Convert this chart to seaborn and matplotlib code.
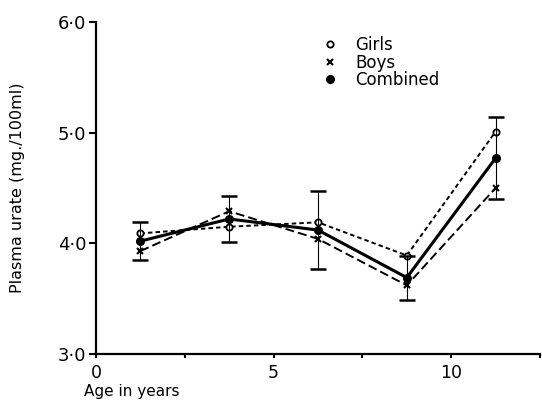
import numpy as np
import pandas as pd
import matplotlib
matplotlib.use('Agg')
import matplotlib.pyplot as plt
import seaborn as sns
from matplotlib.lines import Line2D

# data
ages = [1.25, 3.75, 6.25, 8.75, 11.25]
girls = [4.09, 4.15, 4.19, 3.89, 5.01]
boys = [3.93, 4.29, 4.04, 3.62, 4.50]
combined = [4.02, 4.22, 4.12, 3.69, 4.77]
combined_err = [0.17, 0.21, 0.35, 0.20, 0.37]

groups = ['Girls', 'Boys', 'Combined']
x_ticks = [0, 5, 10]
x_tick_labels = ['0', '5', '10']
x_minor = [2.5, 7.5, 12.5]
y_ticks = [3, 4, 5, 6]
y_tick_labels = ['3·0', '4·0', '5·0', '6·0']

sns.set_style('ticks')
plt.rcParams['font.family'] = ['DejaVu Sans']
plt.rcParams['text.color'] = 'black'
plt.rcParams['axes.labelcolor'] = 'black'
plt.rcParams['xtick.color'] = 'black'
plt.rcParams['ytick.color'] = 'black'

df = pd.DataFrame({
    'age': ages * 3,
    'urate': girls + boys + combined,
    'group': [g for g in groups for _ in ages],
})

# line style per group
styles = {
    'Girls': dict(linewidth=1.4, linestyle=(0, (2.3, 1.6)), marker='o', markersize=4.5,
                  markerfacecolor='white', markeredgecolor='black', markeredgewidth=1.3),
    'Boys': dict(linewidth=1.4, linestyle=(0, (4.6, 2.1)), marker='x', markersize=4,
                 markeredgecolor='black', markeredgewidth=1.5),
    'Combined': dict(linewidth=2.2, linestyle='-', marker='o', markersize=5.5,
                     markerfacecolor='black', markeredgecolor='black', markeredgewidth=1),
}

fig = plt.figure(figsize=(5.42, 4.0), dpi=100)
ax = fig.add_axes([96 / 542, 46 / 400, 444 / 542, 332 / 400])

for g in groups:
    sub = df[df['group'] == g]
    sns.lineplot(data=sub, x='age', y='urate', ax=ax, color='black',
                 errorbar=None, sort=False, **styles[g])

ax.errorbar(ages, combined, yerr=combined_err, fmt='none', ecolor='black',
            elinewidth=0.8, capsize=6, capthick=1.8)

ax.set_xlim(0, 12.5)
ax.set_ylim(3, 6)
ax.set_xticks(x_ticks)
ax.set_xticklabels(x_tick_labels, fontsize=12.5)
ax.set_xticks(x_minor, minor=True)
ax.set_yticks(y_ticks)
ax.set_yticklabels(y_tick_labels, fontsize=13)
ax.tick_params(axis='both', which='major', length=5, width=1.5, color='black', pad=2)
ax.tick_params(axis='x', which='major', length=3, pad=4)
ax.tick_params(axis='x', which='minor', length=3, width=1.5)

sns.despine(ax=ax)
for s in ['left', 'bottom']:
    ax.spines[s].set_linewidth(1.6)
    ax.spines[s].set_color('black')

ax.set_xlabel('Age in years', fontsize=11, ha='left', va='top')
ax.xaxis.set_label_coords((84 - 96) / 444, -(384 - 354) / 332)
ax.set_ylabel('Plasma urate (mg./100ml)', fontsize=11.5, va='center')
ax.yaxis.set_label_coords((18 - 96) / 444, 0.5)

handles = [
    Line2D([], [], linestyle='none', marker='o', markersize=4.5, markerfacecolor='white',
           markeredgecolor='black', markeredgewidth=1.3),
    Line2D([], [], linestyle='none', marker='x', markersize=4, markeredgecolor='black',
           markeredgewidth=1.5),
    Line2D([], [], linestyle='none', marker='o', markersize=5.5, markerfacecolor='black',
           markeredgecolor='black'),
]
ax.legend(handles, groups, loc='upper left', bbox_to_anchor=((312 - 96) / 444, (354 - 28) / 332),
          frameon=False, fontsize=12, handlelength=1.2, handletextpad=0.9,
          labelspacing=-0.05, borderpad=0)

fig.savefig('out.png', dpi=100)
